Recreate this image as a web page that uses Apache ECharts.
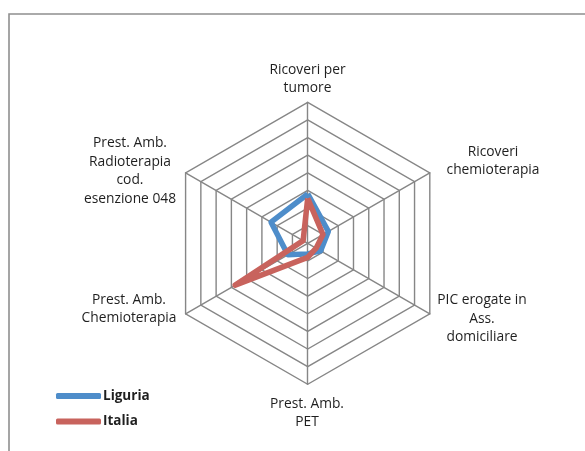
<!DOCTYPE html>
<html lang="it">

<head>
    <meta charset="UTF-8">
    <title>Radar Liguria - Italia</title>
    <style>
        * {
            margin: 0;
            padding: 0;
        }
    </style>
    <script src="https://cdn.jsdelivr.net/npm/echarts@6/dist/echarts.min.js"></script>
</head>

<body>
    <div id="echart" style="width: 585px;height: 451px;"></div>
    <script>
        // assi in ordine orario, partendo dall'alto (come nel grafico Excel)
        var categories = ['Ricoveri per\ntumore', 'Ricoveri\nchemioterapia', 'PIC erogate in\nAss.\ndomiciliare',
            'Prest. Amb.\nPET', 'Prest. Amb.\nChemioterapia', 'Prest. Amb.\nRadioterapia\ncod.\nesenzione 048'
        ]
        var liguria = [2.8, 1.35, 0.85, 0.6, 1.3, 2.4]
        var italia = [2.55, 1.0, 0.55, 0.8, 4.75, 0.3]
        var axisMax = 8

        // posizione delle etichette (centro del blocco di testo)
        var labelPos = [
            [307.5, 79],
            [493, 161],
            [482, 319],
            [307, 413],
            [129, 309],
            [130, 171]
        ]

        // echarts gira in senso antiorario: riordino
        function ccw(arr) {
            return [arr[0]].concat(arr.slice(1).reverse())
        }

        var echart = echarts.init(document.getElementById('echart'))
        var font = 'Open Sans'

        var labels = categories.map((c, i) => ({
            type: 'text',
            x: labelPos[i][0],
            y: labelPos[i][1],
            style: {
                text: c,
                font: '13.8px "' + font + '"',
                fill: '#1f1f1f',
                align: 'center',
                verticalAlign: 'middle',
                lineHeight: 18.5
            }
        }))

        var option = {
            animation: false,
            backgroundColor: '#fff',
            legend: {
                orient: 'vertical',
                left: 56,
                top: 388,
                padding: 0,
                itemWidth: 45,
                itemHeight: 6,
                itemGap: 9.5,
                icon: 'roundRect',
                textStyle: {
                    fontFamily: font,
                    fontSize: 13.5,
                    lineHeight: 16,
                    fontWeight: 'bold',
                    color: '#1f1f1f',
                    padding: [0, 0, 0, -3]
                },
                data: ['Liguria', 'Italia']
            },
            radar: {
                center: [307.7, 243.3],
                radius: 141,
                startAngle: 90,
                shape: 'polygon',
                splitNumber: 8,
                axisName: {
                    show: false
                },
                axisLine: {
                    lineStyle: {
                        color: '#868686',
                        width: 1.4
                    }
                },
                splitLine: {
                    lineStyle: {
                        color: '#868686',
                        width: 1.4
                    }
                },
                splitArea: {
                    show: false
                },
                indicator: ccw(categories).map(n => ({
                    name: n,
                    min: 0,
                    max: axisMax
                }))
            },
            graphic: [{
                type: 'rect',
                shape: {
                    x: 9,
                    y: 14,
                    width: 700,
                    height: 600
                },
                style: {
                    fill: 'none',
                    stroke: '#8f8f8f',
                    lineWidth: 1.6
                }
            }].concat(labels),
            series: [{
                type: 'radar',
                symbol: 'none',
                data: [{
                    name: 'Liguria',
                    value: ccw(liguria),
                    lineStyle: {
                        color: '#4e8dca',
                        width: 5.5,
                        join: 'round'
                    },
                    itemStyle: {
                        color: '#4e8dca'
                    }
                }, {
                    name: 'Italia',
                    value: ccw(italia),
                    lineStyle: {
                        color: '#c8635d',
                        width: 5.5,
                        join: 'round'
                    },
                    itemStyle: {
                        color: '#c8635d'
                    }
                }]
            }]
        }
        echart.setOption(option)
    </script>
</body>

</html>
